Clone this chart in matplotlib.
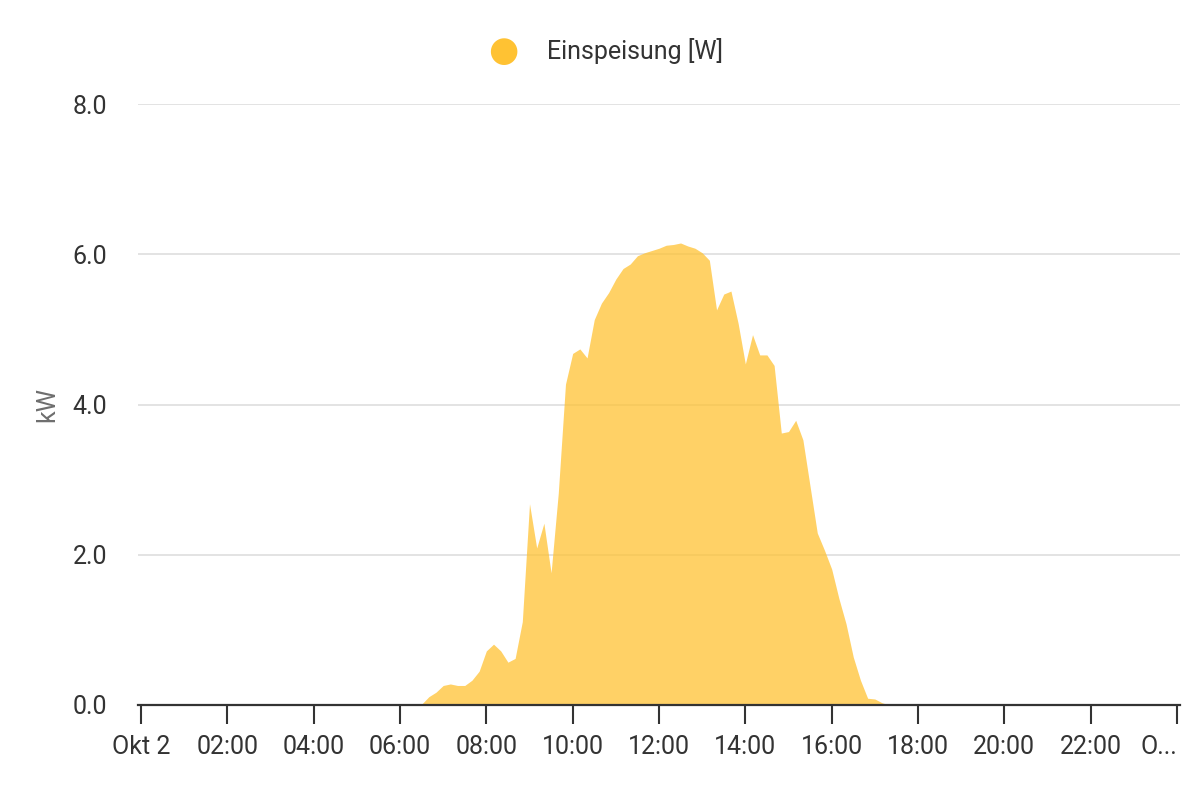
import numpy as np
import matplotlib
matplotlib.use('Agg')
import matplotlib.pyplot as plt

plt.rcParams['font.family'] = ['Roboto', 'DejaVu Sans']

# Einspeisung, 10-Minuten-Werte in kW
times = ['00:00', '06:20', '06:30', '06:40', '06:50', '07:00', '07:10', '07:20', '07:30',
         '07:40', '07:50', '08:00', '08:10', '08:20', '08:30', '08:40', '08:50',
         '09:00', '09:10', '09:20', '09:30', '09:40', '09:50', '10:00', '10:10',
         '10:20', '10:30', '10:40', '10:50', '11:00', '11:10', '11:20', '11:30',
         '11:40', '11:50', '12:00', '12:10', '12:20', '12:30', '12:40', '12:50',
         '13:00', '13:10', '13:20', '13:30', '13:40', '13:50', '14:00', '14:10',
         '14:20', '14:30', '14:40', '14:50', '15:00', '15:10', '15:20', '15:30',
         '15:40', '15:50', '16:00', '16:10', '16:20', '16:30', '16:40', '16:50',
         '17:00', '17:10', '17:20', '24:00']
power_kw = [0.0, 0.0, 0.01, 0.11, 0.17, 0.26, 0.28, 0.26, 0.26,
            0.33, 0.45, 0.72, 0.81, 0.72, 0.57, 0.62, 1.11,
            2.68, 2.09, 2.42, 1.76, 2.82, 4.27, 4.68, 4.74,
            4.62, 5.13, 5.35, 5.49, 5.67, 5.81, 5.87, 5.98,
            6.02, 6.05, 6.08, 6.12, 6.13, 6.15, 6.11, 6.08,
            6.02, 5.92, 5.26, 5.47, 5.51, 5.08, 4.54, 4.93,
            4.66, 4.66, 4.52, 3.62, 3.64, 3.79, 3.53, 2.91,
            2.29, 2.06, 1.81, 1.42, 1.08, 0.64, 0.33, 0.09,
            0.08, 0.03, 0.0, 0.0]

tick_hours = [0, 2, 4, 6, 8, 10, 12, 14, 16, 18, 20, 22, 24]
tick_labels = ['Okt 2', '02:00', '04:00', '06:00', '08:00', '10:00', '12:00',
               '14:00', '16:00', '18:00', '20:00', '22:00', 'O...']
y_ticks = [0.0, 2.0, 4.0, 6.0, 8.0]

series_name = 'Einspeisung [W]'
COLOR = '#FFC233'
TXT = '#333333'

hours = np.array([int(t[:2]) + int(t[3:]) / 60 for t in times])
vals = np.array(power_kw)

fig = plt.figure(figsize=(12, 8), dpi=100)
ax = fig.add_axes([138 / 1200, 95 / 800, 1042 / 1200, 601 / 800])

pad = 3 / (1036 / 24)
ax.set_xlim(-pad, 24 + pad)
ax.set_ylim(0, 8)

ax.fill_between(hours, 0, vals, color=COLOR, alpha=0.75, lw=0, zorder=2)

# Gitter
for yv in y_ticks[1:]:
    ax.axhline(yv, color='#E3E3E3', lw=1.4, zorder=1)

for s in ['top', 'right', 'left']:
    ax.spines[s].set_visible(False)
ax.spines['bottom'].set_color(TXT)
ax.spines['bottom'].set_linewidth(1.6)
ax.spines['bottom'].set_zorder(3)

ax.set_xticks(tick_hours)
ax.set_xticklabels(tick_labels)
ax.tick_params(axis='x', length=13.5, width=1.5, color=TXT, direction='out',
               labelsize=18, labelcolor=TXT, pad=8)
ax.get_xticklabels()[-1].set_ha('right')
ax.get_xticklabels()[-1].set_x(24 - 4 / (1036 / 24))

ax.set_yticks(y_ticks)
ax.set_yticklabels([f'{v:.1f}' for v in y_ticks])
ax.tick_params(axis='y', length=0, labelsize=18, labelcolor=TXT, pad=22)

ax.set_ylabel('kW', fontsize=18, color='#6E6E6E', labelpad=10)

# Legende
fig.text(503 / 1200, 1 - 51 / 800, '\u25CF', color=COLOR, fontsize=25,
         ha='center', va='center', family=['DejaVu Sans'])
fig.text(547 / 1200, 1 - 51 / 800, series_name, color=TXT, fontsize=18,
         ha='left', va='center')

fig.savefig('out.png', dpi=100)
